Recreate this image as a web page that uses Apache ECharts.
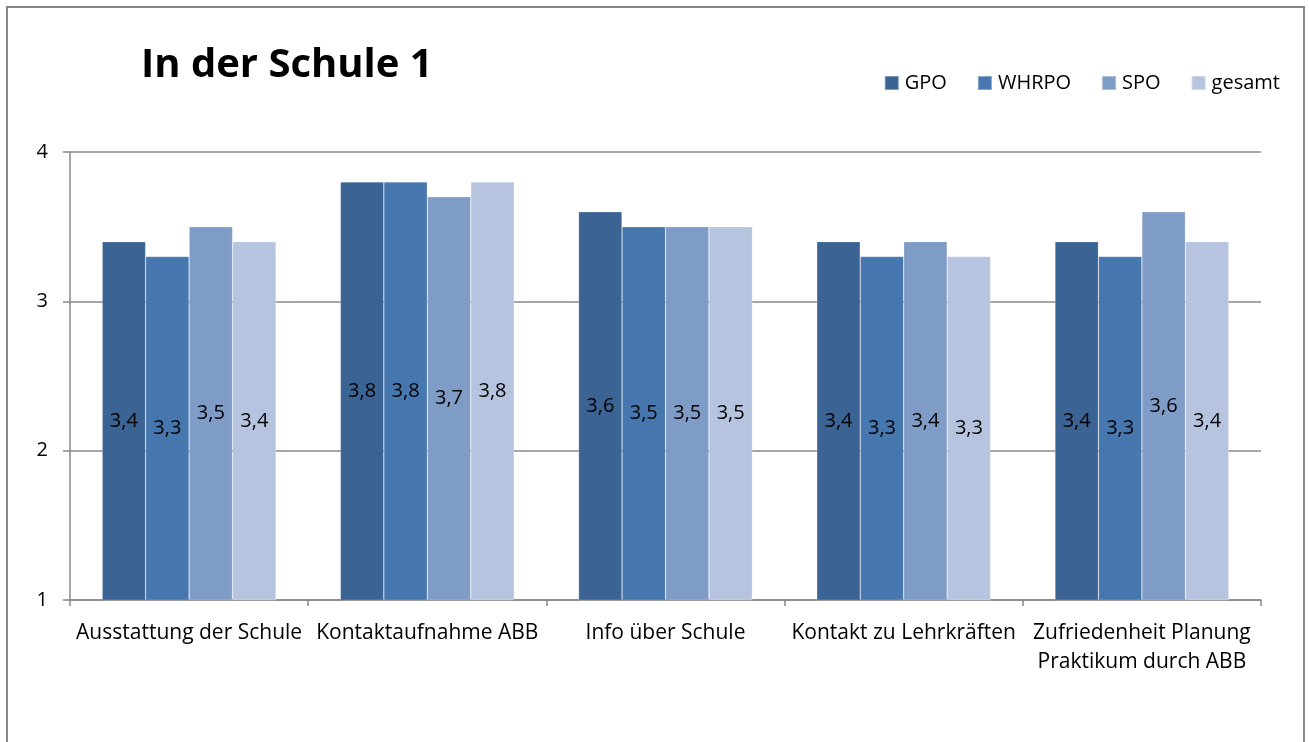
<!DOCTYPE html>
<html>
<head>
    <meta charset="UTF-8"/>
    <title>In der Schule 1</title>
    <script src="https://cdn.jsdelivr.net/npm/echarts@6/dist/echarts.min.js"></script>
    <style>
        html, body {margin: 0; padding: 0; background: #fff;}
        #chart {width: 1309px; height: 742px;}
    </style>
</head>
<body>
<div id="chart"></div>
<script>
    var categories = ['Ausstattung der Schule', 'Kontaktaufnahme ABB', 'Info über Schule', 'Kontakt zu Lehrkräften', 'Zufriedenheit Planung\nPraktikum durch ABB'];
    var seriesNames = ['GPO', 'WHRPO', 'SPO', 'gesamt'];
    var gpo = [3.4, 3.8, 3.6, 3.4, 3.4];
    var whrpo = [3.3, 3.8, 3.5, 3.3, 3.3];
    var spo = [3.5, 3.7, 3.5, 3.4, 3.6];
    var gesamt = [3.4, 3.8, 3.5, 3.3, 3.4];
    var yTicks = [1, 2, 3, 4];

    var colors = ['#3b6494', '#4677af', '#7f9cc7', '#b6c4df'];
    var values = [gpo, whrpo, spo, gesamt];
    var font = 'Open Sans, Noto Sans, sans-serif';

    var series = seriesNames.map(function (name, i) {
        return {
            name: name,
            type: 'bar',
            data: values[i],
            barGap: '0%',
            barCategoryGap: '27%',
            itemStyle: {color: colors[i], borderColor: 'rgba(255,255,255,0.35)', borderWidth: 0.6},
            label: {
                show: true,
                position: 'inside',
                color: '#000',
                fontSize: 20,
                fontFamily: font,
                formatter: function (p) { return String(p.value).replace('.', ','); }
            }
        };
    });

    var chart = echarts.init(document.getElementById('chart'));
    chart.setOption({
        animation: false,
        color: colors,
        title: {
            text: 'In der Schule 1',
            left: 136,
            top: 41,
            textStyle: {fontSize: 40, fontWeight: 'bold', color: '#000', fontFamily: font}
        },
        legend: {
            right: 24,
            top: 68,
            itemWidth: 14,
            itemHeight: 14,
            itemGap: 30,
            icon: 'rect',
            textStyle: {fontSize: 20, color: '#000', fontFamily: font, padding: [0, 0, 0, 1]},
            data: seriesNames
        },
        grid: {left: 70, right: 48, top: 152, bottom: 142},
        xAxis: {
            type: 'category',
            data: categories,
            axisLine: {lineStyle: {color: '#888', width: 1.5}},
            axisTick: {show: true, length: 6, lineStyle: {color: '#888', width: 1.5}},
            axisLabel: {fontSize: 21, color: '#000', fontFamily: font, margin: 19, lineHeight: 29, interval: 0}
        },
        yAxis: {
            type: 'value',
            min: 1,
            max: 4,
            interval: 1,
            axisLine: {show: true, lineStyle: {color: '#888', width: 1.5}},
            axisTick: {show: true, length: 7, lineStyle: {color: '#888', width: 1.5}},
            axisLabel: {
                fontSize: 20, color: '#000', fontFamily: font, margin: 22,
                formatter: function (v) { return yTicks.indexOf(v) >= 0 ? String(v) : ''; }
            },
            splitLine: {lineStyle: {color: '#888', width: 1.5}}
        },
        graphic: [{
            type: 'rect',
            shape: {x: 7, y: 7, width: 1297, height: 760},
            style: {fill: 'none', stroke: '#888', lineWidth: 2},
            silent: true
        }],
        series: series
    });
</script>
</body>
</html>
